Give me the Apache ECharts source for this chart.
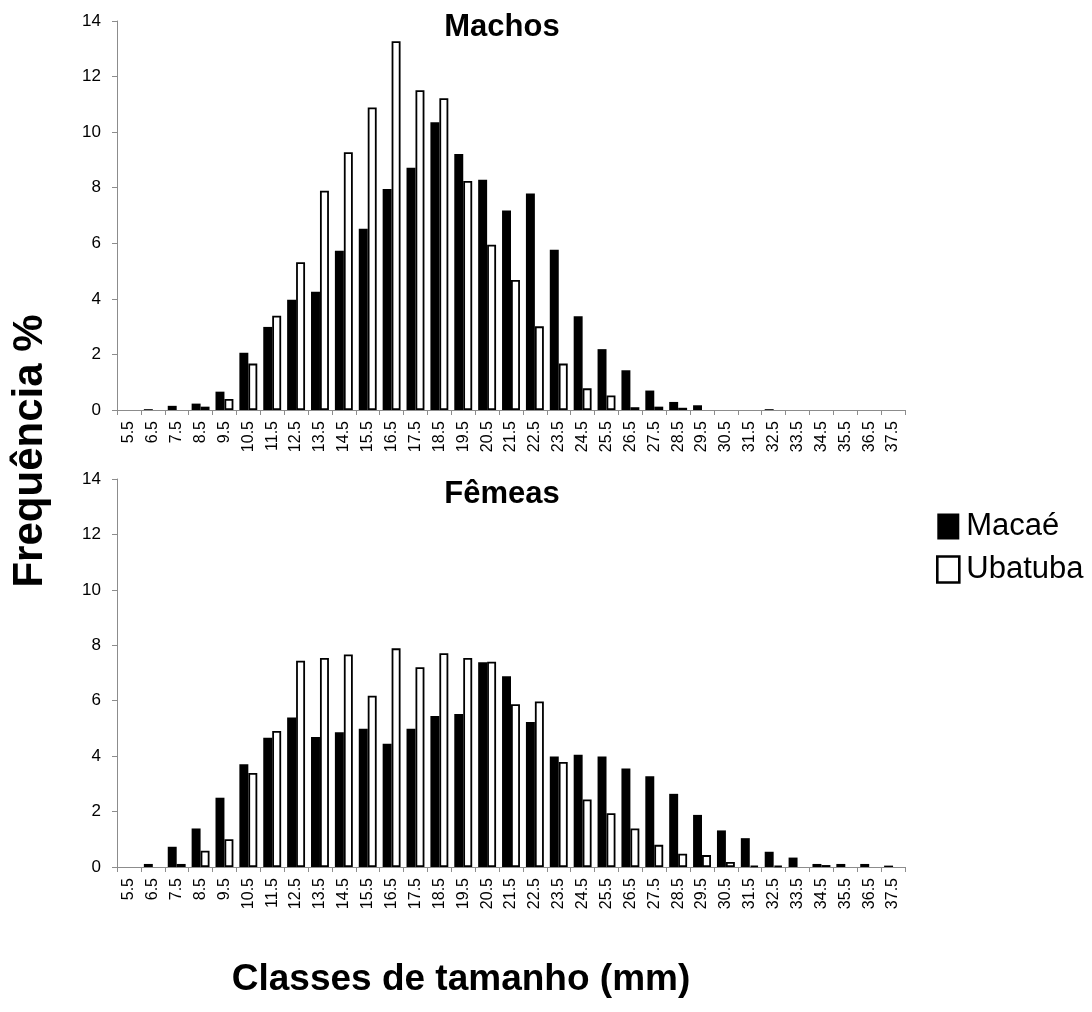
<!DOCTYPE html>
<html>
<head>
<meta charset="utf-8">
<script src="https://cdn.jsdelivr.net/npm/echarts@6/dist/echarts.min.js"></script>
<style>
html,body{margin:0;padding:0;background:#fff;}
#chart{width:1092px;height:1012px;}
</style>
</head>
<body>
<div id="chart"></div>
<script>
const categories = ['5.5','6.5','7.5','8.5','9.5','10.5','11.5','12.5','13.5','14.5','15.5','16.5','17.5','18.5','19.5','20.5','21.5','22.5','23.5','24.5','25.5','26.5','27.5','28.5','29.5','30.5','31.5','32.5','33.5','34.5','35.5','36.5','37.5'];
const yTicks = [0,2,4,6,8,10,12,14];

// null = no bar drawn in that class
const machosMacae   = [null,0.03,0.15,0.23,0.66,2.06,2.99,3.97,4.26,5.73,6.52,7.95,8.72,10.36,9.21,8.29,7.18,7.79,5.77,3.37,2.19,1.43,0.70,0.29,0.17,null,null,0.03,null,null,null,null,null];
const machosUbatuba = [null,null,null,0.12,0.40,1.67,3.39,5.32,7.89,9.28,10.89,13.27,11.51,11.22,8.24,5.95,4.68,3.01,1.67,0.78,0.52,0.10,0.12,0.08,null,null,null,null,null,null,null,null,null];
const femeasMacae   = [null,0.11,0.73,1.39,2.50,3.71,4.66,5.39,4.69,4.86,4.99,4.45,4.99,5.45,5.52,7.39,6.88,5.23,3.99,4.05,3.99,3.55,3.27,2.64,1.88,1.32,1.04,0.55,0.34,0.11,0.11,0.11,0.05];
const femeasUbatuba = [null,null,0.11,0.59,1.00,3.39,4.91,7.44,7.54,7.67,6.18,7.89,7.21,7.71,7.54,7.41,5.87,5.97,3.79,2.44,1.94,1.39,0.80,0.48,0.43,0.18,0.05,0.05,null,0.07,null,null,null];

const FONT = 'Liberation Sans, Arial, sans-serif';
const axisGray = '#8c8c8c';

function xAxis(gi){
  return {
    type:'category', gridIndex:gi, data:categories, boundaryGap:true,
    axisLine:{lineStyle:{color:axisGray,width:1}},
    axisTick:{show:true, alignWithLabel:false, length:5, lineStyle:{color:axisGray}},
    axisLabel:{rotate:90, interval:0, fontFamily:FONT, fontSize:16, color:'#000', margin:11}
  };
}
function yAxis(gi){
  return {
    type:'value', gridIndex:gi, min:yTicks[0], max:yTicks[yTicks.length-1], interval:2,
    axisLine:{show:true, lineStyle:{color:axisGray,width:1}},
    axisTick:{show:true, length:5, lineStyle:{color:axisGray}},
    splitLine:{show:false},
    axisLabel:{fontFamily:FONT, fontSize:17, color:'#000', margin:16}
  };
}
const macaeStyle = {color:'#000', borderColor:'#000', borderWidth:0};
const ubaStyle = {color:'#fff', borderColor:'#000', borderWidth:1.8};

const chart = echarts.init(document.getElementById('chart'), null, {renderer:'canvas'});
chart.setOption({
  animation:false,
  backgroundColor:'#fff',
  title:[
    {text:'Machos', left:497, top:7, textAlign:'center', textStyle:{fontFamily:FONT, fontSize:31, fontWeight:'bold', color:'#000'}},
    {text:'Fêmeas', left:497, top:474, textAlign:'center', textStyle:{fontFamily:FONT, fontSize:31, fontWeight:'bold', color:'#000'}}
  ],
  legend:{
    orient:'vertical', left:931, top:506, itemWidth:22, itemHeight:26, itemGap:12,
    icon:'rect',
    textStyle:{fontFamily:FONT, fontSize:31, color:'#000', padding:[0,0,0,2]},
    data:[
      {name:'Macaé', itemStyle:{color:'#000', borderWidth:0}},
      {name:'Ubatuba', itemStyle:{color:'#fff', borderColor:'#000', borderWidth:2.6}}
    ]
  },
  grid:[
    {left:117, right:187, top:21, height:389},
    {left:117, right:187, top:479, height:388}
  ],
  xAxis:[xAxis(0), xAxis(1)],
  yAxis:[yAxis(0), yAxis(1)],
  series:[
    {name:'Macaé', type:'bar', xAxisIndex:0, yAxisIndex:0, data:machosMacae, itemStyle:macaeStyle, barGap:'0%', barCategoryGap:'25%'},
    {name:'Ubatuba', type:'bar', xAxisIndex:0, yAxisIndex:0, data:machosUbatuba, itemStyle:ubaStyle, barGap:'0%', barCategoryGap:'25%'},
    {name:'Macaé', type:'bar', xAxisIndex:1, yAxisIndex:1, data:femeasMacae, itemStyle:macaeStyle, barGap:'0%', barCategoryGap:'25%'},
    {name:'Ubatuba', type:'bar', xAxisIndex:1, yAxisIndex:1, data:femeasUbatuba, itemStyle:ubaStyle, barGap:'0%', barCategoryGap:'25%'}
  ],
  graphic:[
    {type:'text', x:30, y:451, rotation:Math.PI/2,
     style:{text:'Frequência %', font:'bold 42px '+FONT, fill:'#000', textAlign:'center', textVerticalAlign:'middle'}},
    {type:'text', x:461, y:980,
     style:{text:'Classes de tamanho (mm)', font:'bold 37px '+FONT, fill:'#000', textAlign:'center', textVerticalAlign:'middle'}}
  ]
});
</script>
</body>
</html>
